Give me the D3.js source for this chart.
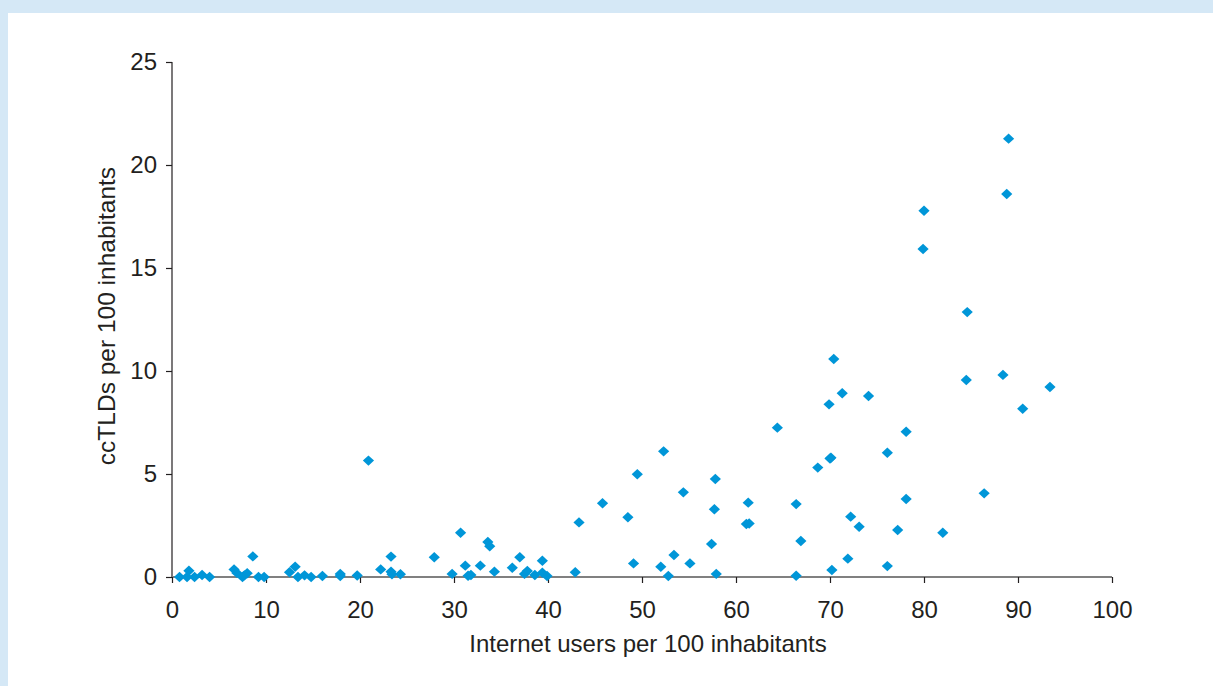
<!DOCTYPE html>
<html><head><meta charset="utf-8">
<script src="https://cdn.jsdelivr.net/npm/d3@7"></script>
<style>
html,body{margin:0;padding:0;background:#d5e8f6;}
svg{display:block;}
</style></head>
<body>
<svg id="chart" width="1213" height="686"></svg>
<script>
// Internet users per 100 inhabitants (x) vs ccTLDs per 100 inhabitants (y)
const internetUsers = [
  0.8,1.6,1.8,2.4,3.2,4.0,6.6,6.9,7.5,7.7,8.0,8.6,9.2,9.8,
  12.5,13.1,13.4,14.1,14.8,16.0,17.9,17.9,19.7,20.9,22.2,23.3,23.3,23.4,24.3,
  27.9,29.8,30.7,31.2,31.5,31.8,32.8,33.6,33.8,34.3,36.2,37.0,37.5,37.8,38.6,39.4,39.4,39.9,
  42.9,43.3,45.8,48.5,49.1,49.5,52.0,52.3,52.8,53.4,54.4,55.1,57.4,57.7,57.8,57.9,
  61.1,61.3,61.4,64.4,66.4,66.4,66.9,68.7,69.9,70.0,70.1,70.2,70.4,71.3,71.9,72.2,73.1,74.1,
  76.1,76.1,77.2,78.1,78.1,79.9,80.0,82.0,84.5,84.6,86.4,88.4,88.8,89.0,90.5,93.4
];
const ccTLDs = [
  0.0,0.0,0.3,0.0,0.1,0.0,0.37,0.2,0.0,0.08,0.18,1.0,0.0,0.0,
  0.23,0.5,0.0,0.08,0.0,0.05,0.05,0.15,0.07,5.65,0.37,0.99,0.26,0.13,0.13,
  0.96,0.15,2.15,0.55,0.06,0.1,0.55,1.7,1.49,0.26,0.45,0.96,0.15,0.29,0.1,0.79,0.21,0.05,
  0.23,2.65,3.58,2.9,0.66,4.99,0.5,6.1,0.05,1.07,4.11,0.66,1.6,3.29,4.76,0.15,
  2.57,3.61,2.6,7.25,0.06,3.54,1.75,5.31,8.38,5.75,5.79,0.34,10.58,8.92,0.89,2.93,2.44,8.79,
  6.03,0.53,2.28,7.05,3.79,15.92,17.78,2.15,9.56,12.86,4.06,9.81,18.59,21.28,8.17,9.22
];
const xTicks = [0,10,20,30,40,50,60,70,80,90,100];
const yTicks = [0,5,10,15,20,25];
const xTitle = "Internet users per 100 inhabitants";
const yTitle = "ccTLDs per 100 inhabitants";

const svg = d3.select("#chart");
svg.append("rect").attr("x",8).attr("y",13).attr("width",1213-8).attr("height",686-13).attr("fill","#ffffff");

const x = d3.scaleLinear().domain([0,100]).range([172,1112]);
const y = d3.scaleLinear().domain([0,25]).range([577,62]);
const font = "'Liberation Sans', Arial, sans-serif";
const ink = "#231f20";

// y axis
const yAx = svg.append("g").attr("transform","translate(172,0)")
  .call(d3.axisLeft(y).tickValues(yTicks).tickSize(6).tickPadding(9).tickFormat(d3.format("d")));
yAx.select(".domain").attr("stroke",ink).attr("stroke-width",1.2).attr("d","M0,62V577");
yAx.selectAll(".tick line").attr("stroke",ink).attr("stroke-width",1.2);
yAx.selectAll(".tick text").attr("font-family",font).attr("font-size",24).attr("fill",ink);

// x axis
const xAx = svg.append("g").attr("transform","translate(0,577)")
  .call(d3.axisBottom(x).tickValues(xTicks).tickSize(6).tickPadding(18).tickFormat(d3.format("d")));
xAx.select(".domain").attr("stroke","#808080").attr("stroke-width",2).attr("d","M172,0H1112");
xAx.selectAll(".tick line").attr("stroke",ink).attr("stroke-width",1.2);
xAx.selectAll(".tick text").attr("font-family",font).attr("font-size",24).attr("fill",ink);

// titles
svg.append("text").attr("x",648).attr("y",652).attr("text-anchor","middle")
  .attr("font-family",font).attr("font-size",24).attr("fill",ink).text(xTitle);
svg.append("text").attr("transform","translate(115,316) rotate(-90)").attr("text-anchor","middle")
  .attr("font-family",font).attr("font-size",24.5).attr("fill",ink).text(yTitle);

// points
const pts = internetUsers.map((v,i)=>({x:v,y:ccTLDs[i]}));
svg.append("g").selectAll("path").data(pts).join("path")
  .attr("transform",d=>`translate(${x(d.x)},${y(d.y)})`)
  .attr("d","M0,-5.2L5.6,0L0,5.2L-5.6,0Z")
  .attr("fill","#0096d8");
</script>
</body></html>
